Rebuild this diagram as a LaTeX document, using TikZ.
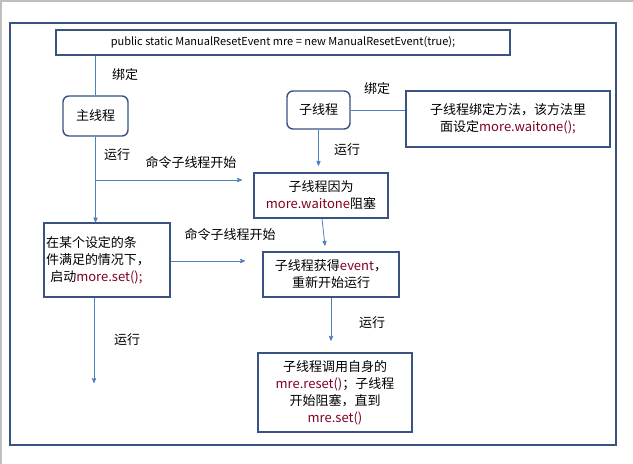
\documentclass[tikz,border=0pt]{standalone}
\usepackage{fontspec}
\setmainfont{Noto Sans CJK SC}
\usetikzlibrary{arrows}
\definecolor{linkblue}{RGB}{79,129,189}
\definecolor{boxblue}{RGB}{56,83,130}
\definecolor{codered}{RGB}{128,0,32}
\newcommand{\code}[1]{\textcolor{codered}{#1}}

\begin{document}
\begin{tikzpicture}[x=1pt,y=-1pt,
    box/.style={draw=boxblue, line width=1.4pt, inner sep=1pt, align=center,
      font=\fontsize{13}{17}\selectfont},
    rbox/.style={box, rounded corners=6pt},
    link/.style={draw=linkblue, line width=0.8pt},
    go/.style={link, ->, >=stealth'},
    lbl/.style={font=\fontsize{13}{16}\selectfont}]
    \useasboundingbox (0,0) rectangle (633,464);
    % page edge
    \draw[gray!50, line width=2pt] (1,464) -- (1,1) -- (633,1);
    \node[box, minimum width=606pt, minimum height=422pt] (frame) at (313,234) {};
    % boxes
    \node[box, minimum width=454pt, minimum height=25pt, font=\fontsize{11}{13}\selectfont] (decl) at (283,42.5)
      {public static ManualResetEvent mre = new ManualResetEvent(true);};
    \node[rbox, minimum width=65pt, minimum height=40pt] (main) at (95.5,116) {主线程};
    \node[rbox, minimum width=63pt, minimum height=38pt] (sub) at (318.5,110) {子线程};
    \node[box, minimum width=204pt, minimum height=56pt] (bind) at (508,119)
      {子线程绑定方法，该方法里\\面设定\code{more.waitone();}};
    \node[box, minimum width=134pt, minimum height=45pt] (block) at (321,195.5)
      {子线程因为\\\code{more.waitone}阻塞};
    \node[box, minimum width=126pt, minimum height=74pt, text width=122pt, align=left] (cond) at (107,260)
      {在某个设定的条\\件满足的情况下，\\\ 启动\code{more.set();}};
    \node[box, minimum width=136pt, minimum height=45pt] (event) at (331,274.5)
      {子线程获得\code{event}，\\重新开始运行};
    \node[box, minimum width=154pt, minimum height=79pt] (reset) at (335,392.5)
      {子线程调用自身的\\\code{mre.reset()}；子线程\\开始阻塞，直到\\\code{mre.set()}};
    % connectors
    \coordinate (split) at (96,180);
    \coordinate (toblock) at (242,180);
    \coordinate (toevent) at (245,261);
    \coordinate (end) at (94,383);
    \draw[link] (decl.south -| main) -- (main.north);
    \draw[go] (main.south) -- (cond.north -| main);
    \draw[go] (split) -- (toblock);
    \draw[link] (sub.east) -- (bind.west |- sub.east);
    \draw[go] (sub.south) -- ++(0,36);
    \draw[go] (block.south) ++(1,0) -- ++(3,27);
    \draw[go] (cond.east |- toevent) -- (toevent);
    \draw[go] (event.south) -- ++(0,43);
    \draw[go] (cond.south -| end) -- (end);
    % labels
    \node[lbl] (l1) at (125,75) {绑定};
    \node[lbl] (l2) at (117,155) {运行};
    \node[lbl] (l3) at (191,163) {命令子线程开始};
    \node[lbl] (l4) at (377,89) {绑定};
    \node[lbl] (l5) at (347,150) {运行};
    \node[lbl] (l6) at (230,235) {命令子线程开始};
    \node[lbl] (l7) at (372,323) {运行};
    \node[lbl] (l8) at (127,340) {运行};
\end{tikzpicture}
\end{document}
